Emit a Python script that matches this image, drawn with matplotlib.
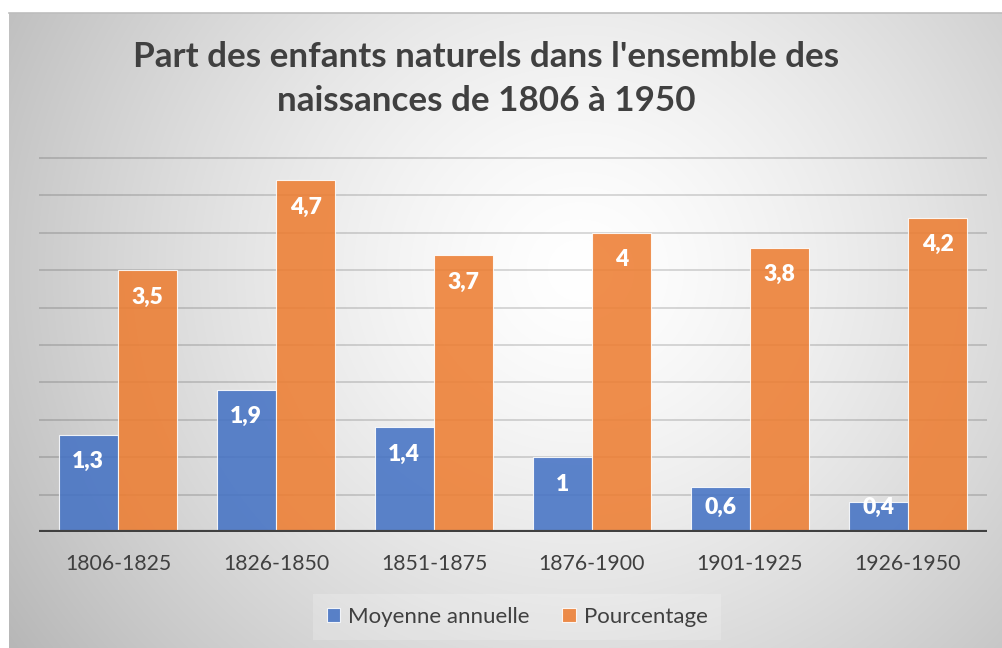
import numpy as np
import matplotlib
matplotlib.use("Agg")
import matplotlib.pyplot as plt

plt.rcParams['font.family'] = ['Lato', 'DejaVu Sans']

title = "Part des enfants naturels dans l'ensemble des\nnaissances de 1806 à 1950"
categories = ["1806-1825", "1826-1850", "1851-1875", "1876-1900", "1901-1925", "1926-1950"]
moyenne = [1.3, 1.9, 1.4, 1.0, 0.6, 0.4]
pourcentage = [3.5, 4.7, 3.7, 4.0, 3.8, 4.2]
series_names = ["Moyenne annuelle", "Pourcentage"]

def fmt(v):
    s = f"{v:g}"
    return s.replace(".", ",")

W, H = 1002, 648
fig = plt.figure(figsize=(W / 100, H / 100), dpi=100)
fig.patch.set_facecolor("white")

# background with radial gradient (chart area)
bg = fig.add_axes([9 / W, 0, (W - 9) / W, (H - 13) / H])
bg.set_axis_off()
yy, xx = np.mgrid[13:H, 9:W]
cx, cy = 580, 270
r = np.sqrt(((xx - cx) / 1.0) ** 2 + ((yy - cy) / 0.95) ** 2)
val = 1 - 0.23 * np.clip(r / 600, 0, 1.2) ** 1.4
img = np.dstack([val, val, val])
bg.imshow(np.clip(img, 0, 1), aspect="auto", extent=[0, 1, 0, 1], origin="upper")
bg.plot([0, 1], [1, 1], color="#bdbdbd", lw=1.2, transform=bg.transAxes, clip_on=False)

# plot axes
x0, x1 = 39, 987
ybase, ytop = 532, 158
ymax = 5.05
unit = (ybase - ytop) / 5.0
axh = ymax * unit
ax = fig.add_axes([x0 / W, (H - ybase) / H, (x1 - x0) / W, axh / H])
ax.patch.set_alpha(0)
ax.set_xlim(-0.5, len(categories) - 0.5)
ax.set_ylim(0, ymax)

x = np.arange(len(categories))
bw = 0.373
off = 0.188
b1 = ax.bar(x - off, moyenne, bw, color="#4472C4", alpha=0.87, edgecolor="#ffffff", linewidth=0.8, zorder=3,
            label=series_names[0])
b2 = ax.bar(x + off, pourcentage, bw, color="#ED7D31", alpha=0.87, edgecolor="#ffffff", linewidth=0.8, zorder=3,
            label=series_names[1])

for xs, vals in ((x - off, moyenne), (x + off, pourcentage)):
    for xi, v in zip(xs, vals):
        ax.text(xi, max(v - 0.36, 0.33), fmt(v), ha="center", va="center", color="white",
                fontsize=16.5, fontweight="heavy", zorder=5)

ax.set_yticks(np.arange(0.5, 5.01, 0.5))
ax.yaxis.grid(True, color="#000000", alpha=0.17, lw=1.2, zorder=0)
ax.tick_params(axis="y", left=False, labelleft=False)
ax.tick_params(axis="x", bottom=False, labelsize=15.3, labelcolor="#404040", pad=12)
ax.set_xticks(x)
ax.set_xticklabels(categories)
for s in ax.spines.values():
    s.set_visible(False)
ax.axhline(0, color="#404040", lw=3.0, zorder=6)

fig.text(486 / W, 1 - 79 / H, title, ha="center", va="center", fontsize=25.2, fontweight="bold",
         color="#404040", linespacing=1.45)

leg = fig.legend(handles=[b1, b2], labels=series_names, loc="center", bbox_to_anchor=(517 / W, 1 - 617 / H),
                 ncol=2, frameon=True, fontsize=16, handlelength=0.6, handleheight=0.6, handletextpad=0.35,
                 columnspacing=1.5, borderpad=0.6, labelcolor="#404040")
leg.get_frame().set_facecolor("white")
leg.get_frame().set_alpha(0.2)
leg.get_frame().set_edgecolor("none")
leg.get_frame().set_boxstyle("square", pad=0)

fig.savefig("out.png", dpi=100)
